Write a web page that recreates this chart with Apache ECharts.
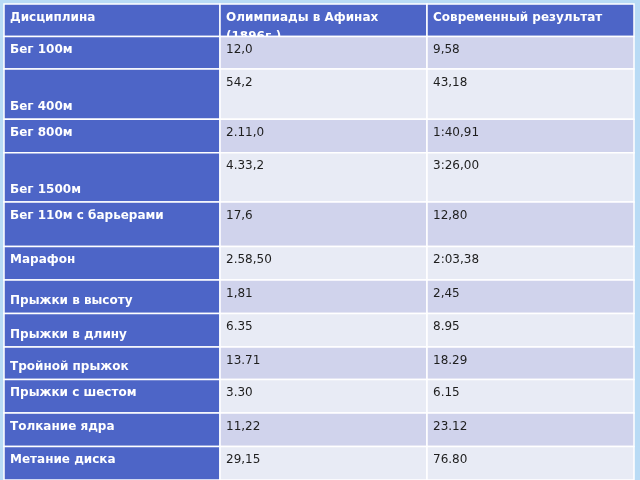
<!DOCTYPE html><html><head><meta charset="utf-8">
<script src="https://cdn.jsdelivr.net/npm/echarts@6/dist/echarts.min.js"></script>
<style>html,body{margin:0;padding:0;background:#b9dbf5}#c{width:640px;height:480px}</style></head><body><div id="c"></div>
<script>
const headers = ['Дисциплина', 'Олимпиады в Афинах\n(1896г.)', 'Современный результат'];
const disciplines = ['Бег 100м','Бег 400м','Бег 800м','Бег 1500м','Бег 110м с барьерами','Марафон','Прыжки в высоту','Прыжки в длину','Тройной прыжок','Прыжки с шестом','Толкание ядра','Метание диска'];
const athens1896 = ['12,0','54,2','2.11,0','4.33,2','17,6','2.58,50','1,81','6.35','13.71','3.30','11,22','29,15'];
const modern = ['9,58','43,18','1:40,91','3:26,00','12,80','2:03,38','2,45','8.95','18.29','6.15','23.12','76.80'];
// layout only
const rowHeights = [33,33,51,34,50,45,34,34,34,33,34,34,34];
const labelBottom = [false,true,false,true,false,false,true,true,true,false,false,false];
const colEdges = [0,216,423,630];

const starts=[];let acc=0;rowHeights.forEach(h=>{starts.push(acc);acc+=h;});
const cells=[];
for(let r=0;r<=disciplines.length;r++){
  const vals = r===0?headers:[disciplines[r-1],athens1896[r-1],modern[r-1]];
  for(let c=0;c<3;c++) cells.push([c,starts[r],starts[r]+rowHeights[r],r,vals[c]]);
}
const chart=echarts.init(document.getElementById('c'));
chart.setOption({
  backgroundColor:'#b9dbf5',
  animation:false,
  grid:{left:4,top:4,width:630,height:acc},
  xAxis:{type:'value',min:0,max:630,show:false},
  yAxis:{type:'value',min:0,max:acc,inverse:true,show:false},
  series:[{type:'custom',data:cells,renderItem:(p,api)=>{
    const c=api.value(0),y0=api.value(1),y1=api.value(2),r=api.value(3),txt=cells[p.dataIndex][4];
    const a=api.coord([colEdges[c],y0]),b=api.coord([colEdges[c+1],y1]);
    const blue=(r===0||c===0);
    const fill=blue?'#4d65c7':(r%2===1?'#d0d3ec':'#e8ebf5');
    const bottom=(c===0&&r>0&&labelBottom[r-1]);
    return {type:'group',children:[
      {type:'rect',shape:{x:a[0],y:a[1],width:b[0]-a[0],height:b[1]-a[1]},style:{fill:fill,stroke:'#ffffff',lineWidth:1.5}},
      {type:'text',style:{text:txt,x:a[0]+6,y:bottom?b[1]-3:a[1]+4,verticalAlign:bottom?'bottom':'top',
        fill:blue?'#ffffff':'#1e1e1e',font:(blue?'bold ':'')+'12px "DejaVu Sans"',lineHeight:19}}
    ]};
  }}]
});
</script></body></html>
